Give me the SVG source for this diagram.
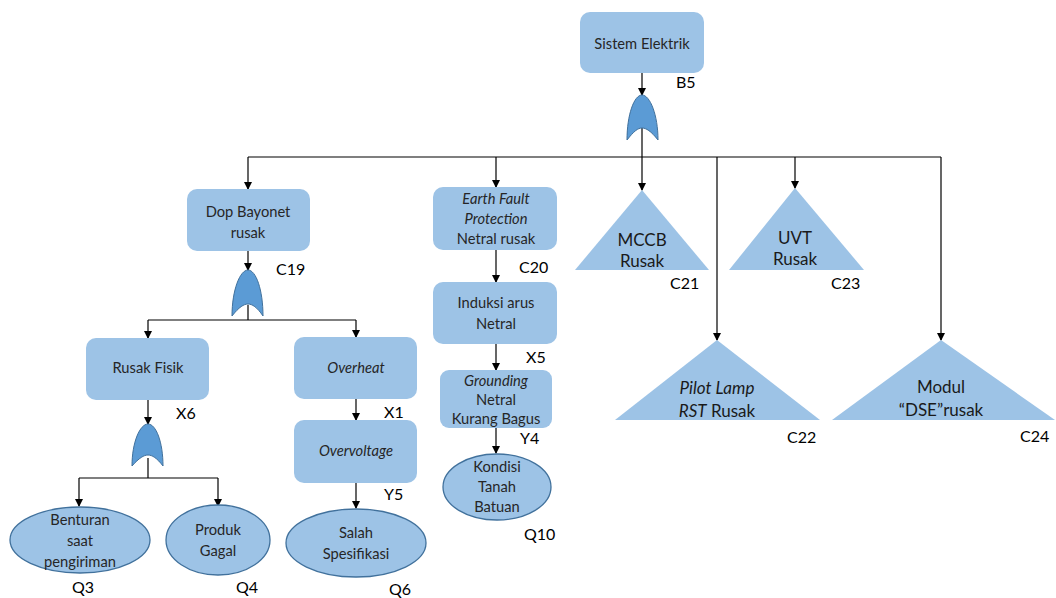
<svg xmlns="http://www.w3.org/2000/svg" width="1056" height="598" viewBox="0 0 1056 598">
<style>
.box{fill:#9dc3e6;}
.ell{fill:#9dc3e6;stroke:#41719c;stroke-width:1.3;}
.tri{fill:#9dc3e6;}
.gate{fill:#5b9bd5;stroke:#41719c;stroke-width:1;}
.t{font-family:Lato,"Open Sans",sans-serif;font-size:14.7px;fill:#262626;text-anchor:middle;}
.tt{font-family:Lato,"Open Sans",sans-serif;font-size:17px;fill:#1a1a1a;text-anchor:middle;}
.lb{font-family:Lato,"Open Sans",sans-serif;font-size:16px;fill:#000;}
.i{font-style:italic;}
.c{fill:none;stroke:#000;stroke-width:1.2;}
</style>
<defs>
<marker id="ah" markerWidth="8" markerHeight="8" refX="7" refY="4" orient="auto" markerUnits="userSpaceOnUse">
<path d="M0,0 L8,4 L0,8 Z" fill="#000"/>
</marker>
</defs>
<rect width="1056" height="598" fill="#fff"/>
<g id="connectors">
<path class="c" d="M642,73 V95" marker-end="url(#ah)"/>
<path class="c" d="M642,128 V157"/>
<path class="c" d="M248,157 H941"/>
<path class="c" d="M248,157 V189" marker-end="url(#ah)"/>
<path class="c" d="M496,157 V187" marker-end="url(#ah)"/>
<path class="c" d="M642,157 V190" marker-end="url(#ah)"/>
<path class="c" d="M717,157 V340" marker-end="url(#ah)"/>
<path class="c" d="M795,157 V188" marker-end="url(#ah)"/>
<path class="c" d="M941,157 V340" marker-end="url(#ah)"/>
<path class="c" d="M248,251 V270" marker-end="url(#ah)"/>
<path class="c" d="M248,305 V320 M148,320 H356"/>
<path class="c" d="M148,320 V338" marker-end="url(#ah)"/>
<path class="c" d="M356,320 V337" marker-end="url(#ah)"/>
<path class="c" d="M148,400 V424" marker-end="url(#ah)"/>
<path class="c" d="M148,458 V478 M79,478 H218"/>
<path class="c" d="M79,478 V506" marker-end="url(#ah)"/>
<path class="c" d="M218,478 V506" marker-end="url(#ah)"/>
<path class="c" d="M356,399 V420" marker-end="url(#ah)"/>
<path class="c" d="M356,483 V508" marker-end="url(#ah)"/>
<path class="c" d="M496,250 V282" marker-end="url(#ah)"/>
<path class="c" d="M496,344 V370" marker-end="url(#ah)"/>
<path class="c" d="M496,418 V453" marker-end="url(#ah)"/>
</g>
<g id="gates">
<path class="gate" d="M642,95 C634,95 627,115 627,140 C634,131 638,128 642,128 C646,128 651,131 658,140 C658,115 650,95 642,95 Z"/>
<path class="gate" d="M248,270 C240,270 232,290 232,316 C239,307 244,304 248,304 C252,304 257,307 263,316 C263,290 256,270 248,270 Z"/>
<path class="gate" d="M148,424 C140,424 132,442 132,466 C139,458 144,455 148,455 C152,455 157,458 163,466 C163,442 156,424 148,424 Z"/>
</g>
<g id="B5">
<rect class="box" x="580" y="12" width="124" height="61" rx="10"/>
<text class="t" x="642" y="49">Sistem Elektrik</text>
<text class="lb" x="676" y="88">B5</text>
</g>
<g id="C19">
<rect class="box" x="187" y="189" width="123" height="62" rx="10"/>
<text class="t" x="248" y="217">Dop Bayonet</text>
<text class="t" x="248" y="238">rusak</text>
<text class="lb" x="276" y="275">C19</text>
</g>
<g id="X6">
<rect class="box" x="86" y="338" width="123" height="62" rx="10"/>
<text class="t" x="148" y="373">Rusak Fisik</text>
<text class="lb" x="176" y="419">X6</text>
</g>
<g id="Q3">
<ellipse class="ell" cx="80" cy="540" rx="70" ry="33"/>
<text class="t" x="80" y="525">Benturan</text>
<text class="t" x="80" y="546">saat</text>
<text class="t" x="80" y="567">pengiriman</text>
<text class="lb" x="72" y="593">Q3</text>
</g>
<g id="Q4">
<ellipse class="ell" cx="218" cy="540" rx="52" ry="35"/>
<text class="t" x="218" y="535">Produk</text>
<text class="t" x="218" y="556">Gagal</text>
<text class="lb" x="236" y="593">Q4</text>
</g>
<g id="X1">
<rect class="box" x="294" y="337" width="123" height="62" rx="10"/>
<text class="t i" x="356" y="373">Overheat</text>
<text class="lb" x="384" y="418">X1</text>
</g>
<g id="Y5">
<rect class="box" x="294" y="420" width="123" height="63" rx="10"/>
<text class="t i" x="356" y="456">Overvoltage</text>
<text class="lb" x="384" y="500">Y5</text>
</g>
<g id="Q6">
<ellipse class="ell" cx="356" cy="543" rx="70" ry="34"/>
<text class="t" x="356" y="538">Salah</text>
<text class="t" x="356" y="559">Spesifikasi</text>
<text class="lb" x="389" y="595">Q6</text>
</g>
<g id="C20">
<rect class="box" x="433" y="187" width="124" height="63" rx="10"/>
<text class="t i" x="496" y="204">Earth Fault</text>
<text class="t i" x="496" y="224">Protection</text>
<text class="t" x="496" y="244">Netral rusak</text>
<text class="lb" x="519" y="273">C20</text>
</g>
<g id="X5">
<rect class="box" x="433" y="282" width="124" height="62" rx="10"/>
<text class="t" x="496" y="308">Induksi arus</text>
<text class="t" x="496" y="329">Netral</text>
<text class="lb" x="526" y="363">X5</text>
</g>
<g id="Y4">
<rect class="box" x="440" y="370" width="112" height="58" rx="9"/>
<text class="t i" x="496" y="386">Grounding</text>
<text class="t" x="496" y="405">Netral</text>
<text class="t" x="496" y="424">Kurang Bagus</text>
<text class="lb" x="520" y="444">Y4</text>
</g>
<g id="Q10">
<ellipse class="ell" cx="497" cy="487" rx="54" ry="33"/>
<text class="t" x="497" y="472">Kondisi</text>
<text class="t" x="497" y="492">Tanah</text>
<text class="t" x="497" y="512">Batuan</text>
<text class="lb" x="524" y="540">Q10</text>
</g>
<g id="C21">
<polygon class="tri" points="642,190 575,270 709,270"/>
<text class="tt" x="642" y="246">MCCB</text>
<text class="tt" x="642" y="267">Rusak</text>
<text class="lb" x="670" y="289">C21</text>
</g>
<g id="C23">
<polygon class="tri" points="795,188 729,270 864,270"/>
<text class="tt" x="795" y="244">UVT</text>
<text class="tt" x="795" y="265">Rusak</text>
<text class="lb" x="831" y="289">C23</text>
</g>
<g id="C22">
<polygon class="tri" points="717,340 615,420 820,420"/>
<text class="tt i" x="717" y="394">Pilot Lamp</text>
<text class="tt" x="717" y="417"><tspan class="i">RST</tspan> Rusak</text>
<text class="lb" x="787" y="443">C22</text>
</g>
<g id="C24">
<polygon class="tri" points="941,340 832,420 1055,420"/>
<text class="tt" x="941" y="393">Modul</text>
<text class="tt" x="941" y="416">“DSE”rusak</text>
<text class="lb" x="1020" y="442">C24</text>
</g>
</svg>
